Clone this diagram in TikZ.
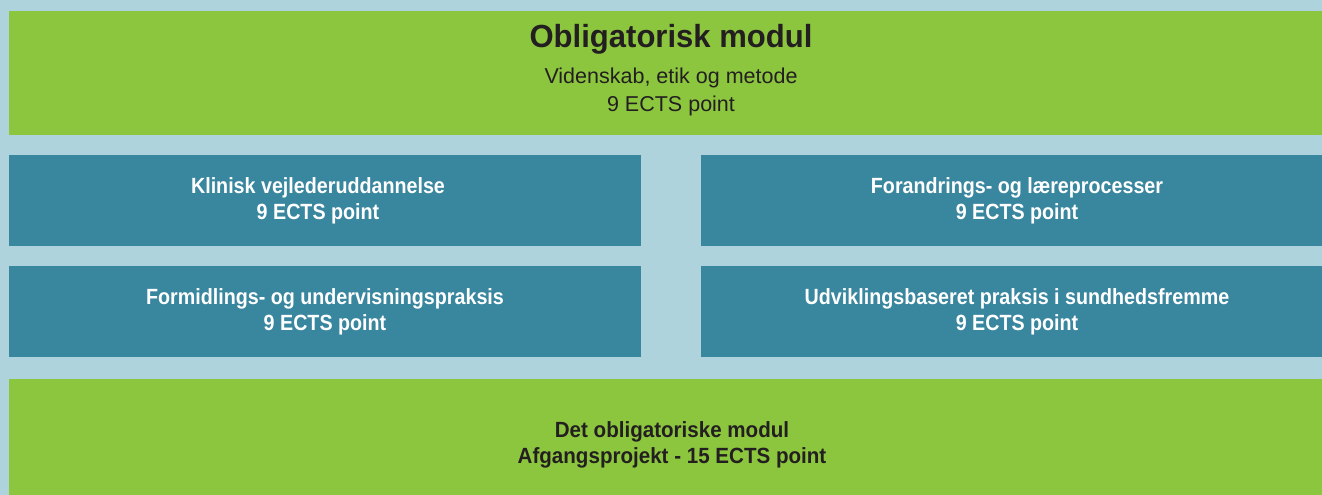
\documentclass[tikz,border=0pt]{standalone}
\usepackage{fontspec}
\setmainfont{Liberation Sans}
\newfontfamily\titlefont{Liberation Sans}[FakeStretch=0.97]
\newfontfamily\subfont{Liberation Sans}[FakeStretch=1.0]
\newfontfamily\bluefont{Liberation Sans}[FakeStretch=0.895]
\newfontfamily\botfont{Liberation Sans}[FakeStretch=0.935]
\definecolor{bgblue}{HTML}{AED3DC}
\definecolor{mgreen}{HTML}{8CC63F}
\definecolor{mblue}{HTML}{39869F}
\definecolor{dtext}{HTML}{231F20}
\begin{document}
\begin{tikzpicture}[x=1pt,y=-1pt,
  box/.style={draw=none,inner sep=0pt,outer sep=0pt,anchor=north west},
  greenbox/.style={box,fill=mgreen},
  bluebox/.style={box,fill=mblue},
  bluetext/.style={text=white,font=\bluefont\bfseries\fontsize{22}{26}\selectfont,align=center,inner sep=0pt},
  greentext/.style={text=dtext,font=\botfont\bfseries\fontsize{22}{26}\selectfont,align=center,inner sep=0pt}]
\fill[bgblue] (0,0) rectangle (1322,495);
\useasboundingbox (0,0) rectangle (1322,495);
\node[greenbox,minimum width=1313pt,minimum height=124pt] (top) at (9,11) {};
\node[text=dtext,font=\titlefont\bfseries\fontsize{32}{36}\selectfont,inner sep=0pt] (title) at (671,39) {Obligatorisk modul};
\node[text=dtext,font=\subfont\fontsize{21.5}{28}\selectfont,align=center,inner sep=0pt] (sub) at (671,91.5) {Videnskab, etik og metode\\9 ECTS point};
\node[bluebox,minimum width=632pt,minimum height=91pt] (b1) at (9,155) {};
\node[bluebox,minimum width=621pt,minimum height=91pt] (b2) at (701,155) {};
\node[bluebox,minimum width=632pt,minimum height=91pt] (b3) at (9,266) {};
\node[bluebox,minimum width=621pt,minimum height=91pt] (b4) at (701,266) {};
\node[greenbox,minimum width=1313pt,minimum height=116pt] (bot) at (9,379) {};
\node[bluetext] (t1) at (318,200.5) {Klinisk vejlederuddannelse\\9 ECTS point};
\node[bluetext] (t2) at (1017,200.5) {Forandrings- og læreprocesser\\9 ECTS point};
\node[bluetext] (t3) at (325,311.5) {Formidlings- og undervisningspraksis\\9 ECTS point};
\node[bluetext] (t4) at (1017,311.5) {Udviklingsbaseret praksis i sundhedsfremme\\9 ECTS point};
\node[greentext] (t5) at (672,445) {Det obligatoriske modul\\Afgangsprojekt - 15 ECTS point};
\end{tikzpicture}
\end{document}
